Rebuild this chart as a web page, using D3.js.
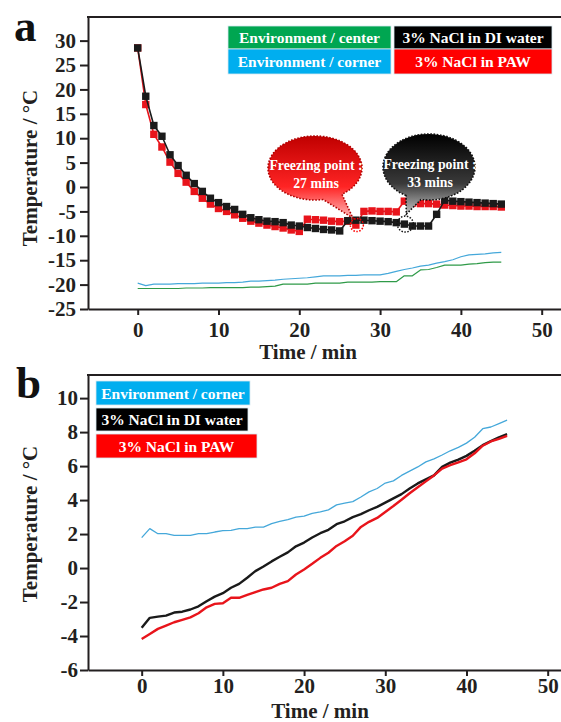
<!DOCTYPE html>
<meta charset="utf-8">
<head>
  <script src="https://d3js.org/d3.v7.min.js"></script>
  <style>
    body { margin: 0; background: #fff; }
    text { font-family: "Liberation Serif", "Times New Roman", serif; font-weight: bold; }
  </style>
</head>
<body>
  <div id="my_dataviz"></div>
</body>
<script>

  // minutes 0..45, one reading per minute
  var minutes = d3.range(0, 46);

  // panel a : cooling
  var aEnvCenter = [-20.8, -20.8, -20.8, -20.8, -20.8, -20.8, -20.7, -20.7, -20.7, -20.6, -20.6, -20.6, -20.6, -20.6, -20.5, -20.5,
    -20.4, -20.3, -19.9, -19.9, -19.9, -19.9, -19.7, -19.7, -19.7, -19.7, -19.5, -19.5, -19.5, -19.5, -19.4, -19.4,
    -19.4, -18.2, -18.2, -17.0, -16.9, -16.5, -16.0, -16.0, -16.0, -15.8, -15.7, -15.5, -15.4, -15.4];
  var aEnvCorner = [-19.7, -20.2, -19.9, -19.9, -19.9, -19.8, -19.8, -19.8, -19.7, -19.7, -19.7, -19.6, -19.6, -19.5, -19.3, -19.3,
    -19.2, -19.1, -18.9, -18.8, -18.7, -18.6, -18.4, -18.2, -18.2, -18.2, -18.1, -18.1, -18.0, -18.0, -18.0, -17.7,
    -17.3, -16.9, -16.6, -16.2, -16.0, -15.6, -15.3, -14.9, -14.3, -13.9, -13.8, -13.7, -13.5, -13.4];
  var aDIWater = [28.5, 18.6, 12.6, 10.4, 6.6, 4.4, 2.4, 0.7, -0.9, -2.3, -3.2, -4.0, -4.6, -5.6, -6.3, -6.7,
    -7.0, -7.1, -7.3, -7.8, -8.0, -8.3, -8.5, -8.7, -8.8, -9.0, -6.9, -6.8, -6.8, -6.9, -7.0, -7.1,
    -7.3, -7.6, -8.0, -8.0, -8.0, -5.6, -2.7, -2.9, -3.0, -3.1, -3.2, -3.3, -3.4, -3.5];
  var aPAW = [28.5, 16.9, 10.8, 8.2, 5.1, 2.8, 1.0, -0.9, -2.3, -3.5, -4.4, -5.0, -5.7, -6.4, -7.0, -7.4,
    -7.8, -8.1, -8.4, -8.8, -9.1, -6.6, -6.7, -6.8, -7.0, -7.1, -7.0, -7.8, -5.0, -4.9, -5.0, -5.0,
    -5.1, -2.9, -3.3, -3.4, -3.4, -3.5, -3.7, -3.8, -3.9, -3.9, -4.0, -4.0, -4.0, -4.1];

  // panel b : warming
  var bEnvCorner = [1.79, 2.32, 2.02, 2.02, 1.92, 1.92, 1.92, 2.02, 2.02, 2.12, 2.2, 2.22, 2.32, 2.32, 2.41, 2.41,
    2.61, 2.74, 2.85, 3.0, 3.05, 3.22, 3.3, 3.42, 3.72, 3.82, 3.91, 4.18, 4.48, 4.68, 5.0, 5.13,
    5.45, 5.7, 5.95, 6.25, 6.42, 6.65, 6.9, 7.1, 7.35, 7.7, 8.2, 8.3, 8.5, 8.7];
  var bDIWater = [-3.52, -2.93, -2.86, -2.8, -2.62, -2.57, -2.44, -2.25, -1.95, -1.68, -1.48, -1.16, -0.93, -0.57, -0.18, 0.09,
    0.39, 0.66, 0.92, 1.28, 1.5, 1.8, 2.05, 2.25, 2.58, 2.75, 3.0, 3.17, 3.4, 3.6, 3.85, 4.1,
    4.35, 4.68, 4.98, 5.22, 5.45, 5.95, 6.2, 6.38, 6.6, 6.9, 7.23, 7.47, 7.69, 7.88];
  var bPAW = [-4.17, -3.88, -3.58, -3.39, -3.19, -3.05, -2.9, -2.66, -2.31, -2.11, -2.07, -1.75, -1.75, -1.58, -1.42, -1.26,
    -1.16, -0.93, -0.77, -0.38, -0.08, 0.25, 0.6, 0.9, 1.3, 1.58, 1.9, 2.42, 2.72, 2.95, 3.3, 3.65,
    4.02, 4.4, 4.75, 5.1, 5.45, 5.85, 6.05, 6.22, 6.4, 6.75, 7.2, 7.45, 7.6, 7.78];

  var xTicks = [0, 10, 20, 30, 40, 50];
  var aYTicks = [-25, -20, -15, -10, -5, 0, 5, 10, 15, 20, 25, 30];
  var bYTicks = [-6, -4, -2, 0, 2, 4, 6, 8, 10];

  var freezeMinPAW = 27, freezeMinDI = 33;

  var C = { green: "#00a651", blue: "#00aeef", red: "#ff0000", black: "#000000",
    greenLine: "#2f9a48", blueLine: "#45a8da", redLine: "#e8141b", frame: "#231f20" };

  var svg = d3.select("#my_dataviz")
    .append("svg")
    .attr("width", 561)
    .attr("height", 722);

  var defs = svg.append("defs");
  function grad(id, c1, c2, c3) {
    var g = defs.append("linearGradient").attr("id", id)
      .attr("x1", 0).attr("y1", 0).attr("x2", 0).attr("y2", 1);
    g.append("stop").attr("offset", "0%").attr("stop-color", c1);
    g.append("stop").attr("offset", "62%").attr("stop-color", c2);
    g.append("stop").attr("offset", "100%").attr("stop-color", c3);
  }
  grad("gRed", "#c00000", "#ff2424", "#ffb8b8");
  grad("gBlack", "#000000", "#3a3a3a", "#c4c4c4");

  // draws frame + axes, returns scales
  function panel(o) {
    var x = d3.scaleLinear().domain(o.xd).range([88, 561]);
    var y = d3.scaleLinear().domain(o.yd).range([o.bottom, o.top]);
    var g = svg.append("g");

    g.append("g")
      .attr("transform", "translate(0," + o.bottom + ")")
      .call(d3.axisBottom(x).tickValues(xTicks).tickSize(6).tickSizeOuter(0).tickPadding(o.xPad))
      .call(function (a) {
        a.select(".domain").attr("stroke", C.frame).attr("stroke-width", 2);
        a.selectAll(".tick line").attr("stroke", C.frame).attr("stroke-width", 2);
        a.selectAll("text").attr("font-size", 21).attr("fill", C.frame)
          .style("font-family", "Liberation Serif").style("font-weight", "bold");
      });

    g.append("g")
      .attr("transform", "translate(88,0)")
      .call(d3.axisLeft(y).tickValues(o.yTicks).tickSize(8).tickSizeOuter(0).tickPadding(o.yPad)
        .tickFormat(function (d) { return String(d); }))
      .call(function (a) {
        a.select(".domain").attr("stroke", C.frame).attr("stroke-width", 2);
        a.selectAll(".tick line").attr("stroke", C.frame).attr("stroke-width", 2);
        a.selectAll("text").attr("font-size", 21).attr("fill", C.frame)
          .style("font-family", "Liberation Serif").style("font-weight", "bold");
      });

    // top border
    g.append("line").attr("x1", 87).attr("x2", 561).attr("y1", o.top).attr("y2", o.top)
      .attr("stroke", C.frame).attr("stroke-width", 2);

    g.append("text").attr("x", o.xTitleX).attr("y", o.xTitleY).attr("text-anchor", "middle")
      .attr("font-size", 21).attr("fill", C.frame).text("Time / min");
    g.append("text").attr("transform", "translate(37," + o.yTitleY + ")rotate(-90)")
      .attr("text-anchor", "middle").attr("font-size", 21).attr("fill", C.frame)
      .text("Temperature / \u00b0C");
    g.append("text").attr("x", o.lx).attr("y", o.ly).attr("font-size", 45).attr("fill", "#111")
      .text(o.letter);
    return { x: x, y: y };
  }

  function drawLine(s, vals, color, w) {
    svg.append("path")
      .datum(minutes)
      .attr("fill", "none")
      .attr("stroke", color)
      .attr("stroke-width", w)
      .attr("stroke-linejoin", "round")
      .attr("d", d3.line().x(function (d) { return s.x(d); }).y(function (d, i) { return s.y(vals[i]); }));
  }

  function drawSquares(s, vals, color) {
    svg.append("g").selectAll("rect")
      .data(minutes)
      .enter()
      .append("rect")
      .attr("x", function (d) { return s.x(d) - 3.7; })
      .attr("y", function (d, i) { return s.y(vals[i]) - 3.7; })
      .attr("width", 7.4)
      .attr("height", 7.4)
      .attr("fill", color);
  }

  function legendBox(x, y, w, h, fill, label) {
    svg.append("rect").attr("x", x).attr("y", y).attr("width", w).attr("height", h)
      .attr("fill", fill).attr("stroke", "#d8e8f0").attr("stroke-width", 0.8);
    svg.append("text").attr("x", x + w / 2).attr("y", y + h / 2 + 5.5).attr("text-anchor", "middle")
      .attr("font-size", 15.5).attr("fill", "#fff").text(label);
  }

  // speech bubble; tail between angles t1..t2 (deg) pointing to tip
  function bubble(cx, cy, rx, ry, t1, t2, tip, fillId, stroke, lines) {
    var p = function (t) { var r = t * Math.PI / 180; return [cx + rx * Math.cos(r), cy + ry * Math.sin(r)]; };
    var a = p(t1), b = p(t2);
    var d = "M" + a[0] + "," + a[1] + " A" + rx + "," + ry + " 0 1 1 " + b[0] + "," + b[1] +
      " L" + tip[0] + "," + tip[1] + " Z";
    svg.append("path").attr("d", d).attr("fill", "url(#" + fillId + ")")
      .attr("stroke", stroke).attr("stroke-width", 1.6).attr("stroke-dasharray", "1.6,1.6");
    lines.forEach(function (l, i) {
      svg.append("text").attr("x", cx + 1).attr("y", cy + 2 + i * 18).attr("text-anchor", "middle")
        .attr("font-size", 13.8).attr("fill", "#fff").text(l);
    });
  }

  // ---------- panel a ----------
  var A = panel({ xd: [-6.15, 52.39], yd: [-25, 34.84], top: 17, bottom: 309, yTicks: aYTicks,
    xPad: 7, yPad: 4, xTitleX: 308, xTitleY: 359, yTitleY: 168, letter: "a", lx: 14, ly: 40.5 });

  drawLine(A, aEnvCenter, C.greenLine, 1.2);
  drawLine(A, aEnvCorner, C.blueLine, 1.2);
  drawLine(A, aPAW, C.redLine, 1.6);
  drawSquares(A, aPAW, C.redLine);
  drawLine(A, aDIWater, "#1a1a1a", 1.6);
  drawSquares(A, aDIWater, "#1a1a1a");

  // freezing point markers
  var fr = [A.x(freezeMinPAW), A.y(aPAW[freezeMinPAW])];
  var fb = [A.x(freezeMinDI), A.y(aDIWater[freezeMinDI])];
  svg.append("circle").attr("cx", fr[0] + 1).attr("cy", fr[1]).attr("r", 6.5).attr("fill", "none")
    .attr("stroke", C.red).attr("stroke-width", 1.5).attr("stroke-dasharray", "1.5,1.5");
  svg.append("circle").attr("cx", fb[0] + 1).attr("cy", fb[1]).attr("r", 8).attr("fill", "none")
    .attr("stroke", "#111").attr("stroke-width", 1.5).attr("stroke-dasharray", "1.5,1.5");

  bubble(315, 168, 47, 32, 80, 55, [fr[0] - 3, fr[1] - 7], "gRed", "#b00000",
    ["Freezing point :", "27 mins"]);
  bubble(429, 167, 46, 33, 120, 100, [fb[0] + 2, fb[1] - 10], "gBlack", "#111",
    ["Freezing point :", "33 mins"]);

  legendBox(228, 26, 163, 23, C.green, "Environment / center");
  legendBox(228, 49, 163, 25, C.blue, "Environment / corner");
  legendBox(394, 26, 158, 23, C.black, "3% NaCl in DI water");
  legendBox(394, 49, 158, 25, C.red, "3% NaCl in PAW");

  // ---------- panel b ----------
  var B = panel({ xd: [-6.61, 51.64], yd: [-6, 11.36], top: 375, bottom: 670, yTicks: bYTicks,
    xPad: 2, yPad: 2, xTitleX: 320, xTitleY: 718, yTitleY: 524, letter: "b", lx: 16, ly: 398 });

  drawLine(B, bEnvCorner, C.blueLine, 1.3);
  drawLine(B, bDIWater, "#1a1a1a", 2.4);
  drawLine(B, bPAW, C.redLine, 2.4);

  legendBox(96, 381, 154, 24, C.blue, "Environment / corner");
  legendBox(96, 408, 152, 23, C.black, "3% NaCl in DI water");
  legendBox(96, 434, 161, 24, C.red, "3% NaCl in PAW");

</script>
